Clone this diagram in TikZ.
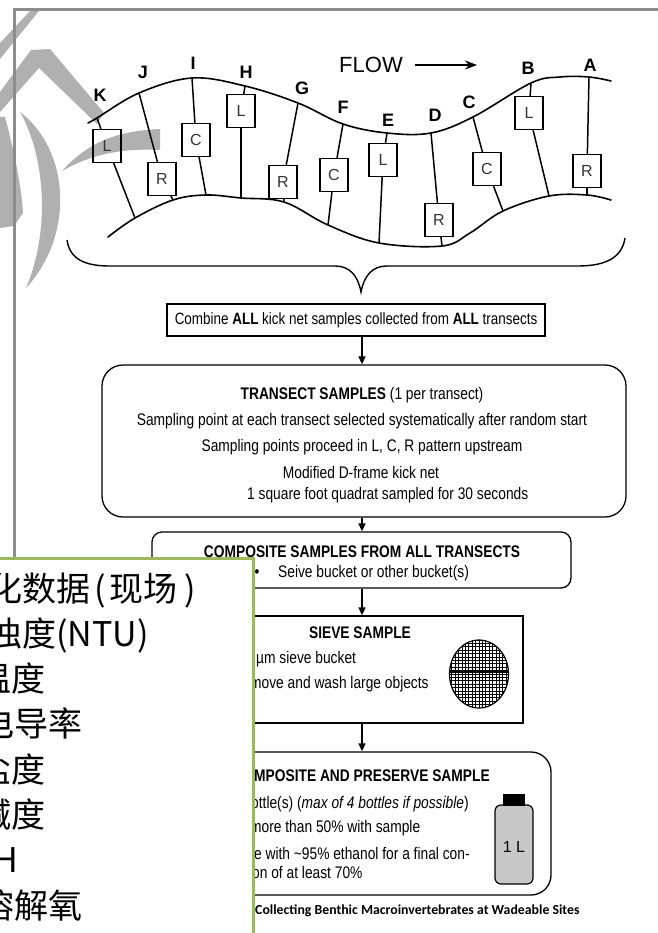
\documentclass[tikz,border=0pt]{standalone}
\usepackage{fontspec}
\setmainfont{Liberation Sans}
\newfontfamily\narrowsans[FakeStretch=0.82]{Liberation Sans}
\newfontfamily\capfont{Carlito}
\newfontfamily\cjkfont{Noto Sans CJK SC}
\usetikzlibrary{arrows.meta}
\definecolor{framegray}{HTML}{8C8C8C}
\definecolor{markgray}{HTML}{B0B0B0}
\definecolor{panelgreen}{HTML}{9BBB59}
\definecolor{bottlegray}{HTML}{C8C8C8}

\begin{document}
\begin{tikzpicture}[x=1pt,y=-1pt,
  bank/.style={line width=1.6pt, line cap=round},
  tline/.style={line width=1.5pt},
  tbox/.style={draw, line width=1.1pt, minimum width=28pt, minimum height=33pt, inner sep=0pt,
    font=\fontsize{16}{16}\selectfont, text=black!80},
  tlabel/.style={inner sep=0pt, font=\fontsize{18}{18}\selectfont\bfseries},
  flowbox/.style={draw, line width=1.3pt, inner sep=0pt},
  arr/.style={line width=1.6pt, -{Triangle[length=8pt,width=7pt]}},
  ntext/.style={inner sep=0pt, font=\narrowsans\fontsize{16.8}{20}\selectfont},
  ctext/.style={inner sep=0pt, anchor=base east, font=\cjkfont\fontsize{34}{40}\selectfont},
]
\useasboundingbox (0,0) rectangle (657,933);

% grey watermark strokes behind the river sketch
\fill[markgray] (0,43) -- (30,11) -- (39,11) -- (0,59) -- cycle;
\fill[markgray] (0,92) -- (31,50) -- (50,49) -- (104,113) -- (97,124) -- (39,68) -- (0,112) -- cycle;
\fill[markgray] (20,112) .. controls (70,150) and (75,235) .. (26,288)
  .. controls (50,232) and (46,158) .. (20,112) -- cycle;
\fill[markgray] (0,117) -- (5,117) .. controls (14,150) and (22,190) .. (23,213) -- (14,226) -- (0,228) -- cycle;
\fill[markgray] (62,171) .. controls (90,140) and (120,131) .. (160,129) -- (160,150)
  .. controls (120,148) and (90,155) .. (62,171) -- cycle;

% page frame
\draw[framegray, line width=3pt] (14,560) -- (14,10) -- (662,10);

% river banks
\draw[bank] plot[smooth, tension=0.6] coordinates {(88,123) (97,118) (139,93) (192,78) (245,86)
  (298,103) (343,124) (387,133) (431,133) (473,117) (531,83) (560,77) (589,77) (611,81)};
\draw[bank] plot[smooth, tension=0.6] coordinates {(108,237) (135,218) (173,200) (206,195) (241,198)
  (284,202) (328,225) (379,243) (442,246) (470,233) (503,211) (549,196) (587,195) (611,200)};

% transects with their sampling positions
\foreach \n/\tx/\ty/\bx/\by/\lx/\ly/\s in {
  K/97/118/107/146/135/218/L, J/139/93/162/179/173/200/R, I/192/78/196/140/206/195/C,
  H/245/86/241/111/241/198/L, G/298/103/283/182/284/202/R, F/343/124/334/175/328/225/C,
  E/387/133/383/160/379/243/L, D/431/133/439/220/442/246/R, C/473/117/487/169/503/211/C,
  B/531/83/529/113/549/196/L, A/589/77/587/171/587/195/R} {
  \coordinate (t\n) at (\tx,\ty);
  \coordinate (l\n) at (\lx,\ly);
  \node[tbox] (b\n) at (\bx,\by) {\s};
  \draw[tline] (t\n) -- (b\n);
  \draw[tline] (b\n) -- (l\n);
}
\foreach \n/\x/\y in {K/100/95, J/143/72, I/193/63, H/246/72, G/302/88, F/343/107,
  E/388/120, D/435/115, C/469/102, B/528/68, A/590/65}
  \node[tlabel] (lab\n) at (\x,\y) {\n};

% flow direction
\node[inner sep=0pt, font=\fontsize{22}{22}\selectfont] (flow) at (371,65) {FLOW};
\coordinate (flowend) at (477,65);
\draw[line width=1.4pt, -{Stealth[length=12pt,width=9pt]}] ([xshift=12pt]flow.east) -- (flowend);

% brace gathering all transects
\draw[line width=1.4pt] (67,240) .. controls (70,262) and (90,266) .. (110,266) -- (335,266)
  .. controls (350,266) and (358,276) .. (361,292) .. controls (364,276) and (372,266) .. (387,266)
  -- (578,266) .. controls (605,266) and (622,258) .. (625,238);

% flow chart
\coordinate (ax) at (362,0);
\node[flowbox, minimum width=378pt, minimum height=32pt, font=\narrowsans\fontsize{16.4}{20}\selectfont]
  (combine) at (356,320) {Combine \textbf{ALL} kick net samples collected from \textbf{ALL} transects};

\node[flowbox, rounded corners=21pt, minimum width=524pt, minimum height=152pt] (transect) at (364,441) {};
\node[ntext, anchor=base] (tr1) at (362,399) {\textbf{TRANSECT SAMPLES} (1 per transect)};
\node[ntext, anchor=base] (tr2) at (362,425) {Sampling point at each transect selected systematically after random start};
\node[ntext, anchor=base] (tr3) at (362,451) {Sampling points proceed in L, C, R pattern upstream};
\node[ntext, anchor=base] (tr4) at (361,478) {Modified D-frame kick net};
\node[ntext, anchor=base west] (tr5) at (247,499) {1 square foot quadrat sampled for 30 seconds};

\node[flowbox, rounded corners=10pt, minimum width=419pt, minimum height=56pt] (composite) at (361.5,560) {};
\node[ntext, anchor=base] (co1) at (362,557) {\textbf{COMPOSITE SAMPLES FROM ALL TRANSECTS}};
\node[ntext, anchor=base] (co2) at (257,577) {•};
\node[ntext, anchor=base west] (co3) at (278,577) {Seive bucket or other bucket(s)};

\node[flowbox, minimum width=322pt, minimum height=107pt] (sieve) at (362,669.5) {};
\node[ntext, anchor=base] (si1) at (360,638) {\textbf{SIEVE SAMPLE}};
\node[ntext, anchor=base west] (si2) at (256,663) {µm sieve bucket};
\node[ntext, anchor=base west] (si3) at (250,688) {move and wash large objects};
\begin{scope}
  \clip (479,674) ellipse [x radius=29.5, y radius=34];
  \foreach \k in {-10,...,10}
    \draw[line width=0.7pt] ({479+\k*3.4},630) -- ({479+\k*3.4},720);
  \foreach \k in {-11,...,11}
    \draw[line width=0.7pt] (440,{674+\k*3.4}) -- (520,{674+\k*3.4});
  \draw[line width=1.2pt] (440,672) -- (520,672);
\end{scope}
\draw[line width=1.2pt] (479,674) ellipse [x radius=29.5, y radius=34];

\node[flowbox, rounded corners=20pt, minimum width=378pt, minimum height=143pt] (preserve) at (362,823.5) {};
\node[ntext, anchor=base west] (pr1) at (254,781) {\textbf{MPOSITE AND PRESERVE SAMPLE}};
\node[ntext, anchor=base west] (pr2) at (251,808) {ottle(s) (\textit{max of 4 bottles if possible})};
\node[ntext, anchor=base west] (pr3) at (250,832) {more than 50\% with sample};
\node[ntext, anchor=base west] (pr4) at (247,859) {ve with \textasciitilde95\% ethanol for a final con-};
\node[ntext, anchor=base west] (pr5) at (252,878) {on of at least 70\%};

% one-litre bottle
\draw[line width=1.2pt, fill=bottlegray, rounded corners=6pt] (495,805) rectangle (533,884);
\fill (503,794) rectangle (525,806);
\node[inner sep=0pt, font=\fontsize{16}{16}\selectfont] (litre) at (514,847) {1 L};

\node[inner sep=0pt, anchor=base west, font=\capfont\bfseries\fontsize{13.8}{16}\selectfont]
  (caption) at (255,914.5) {Collecting Benthic Macroinvertebrates at Wadeable Sites};

\draw[arr] (combine.south -| ax) -- (transect.north -| ax);
\draw[arr] (transect.south -| ax) -- (composite.north -| ax);
\draw[arr] (composite.south -| ax) -- (sieve.north -| ax);
\draw[arr] (sieve.south -| ax) -- (preserve.north -| ax);

% field parameter panel
\node[draw=panelgreen, line width=3pt, fill=white, anchor=north west, minimum width=265pt,
  minimum height=390pt, inner sep=0pt] (panel) at (-13,557) {};
\node[ctext] (p1) at (196,601) {化数据\hspace{4pt}(\hspace{3pt}现场\hspace{7pt})};
\node[ctext] (p2) at (149,646.3) {浊度(NTU)};
\node[ctext] (p3) at (46,691.6) {温度};
\node[ctext] (p4) at (83,736.9) {电导率};
\node[ctext] (p5) at (46,782.2) {盐度};
\node[ctext] (p6) at (46,827.5) {碱度};
\node[ctext] (p7) at (18,872.8) {pH};
\node[ctext] (p8) at (83,918.1) {溶解氧};
\end{tikzpicture}
\end{document}
